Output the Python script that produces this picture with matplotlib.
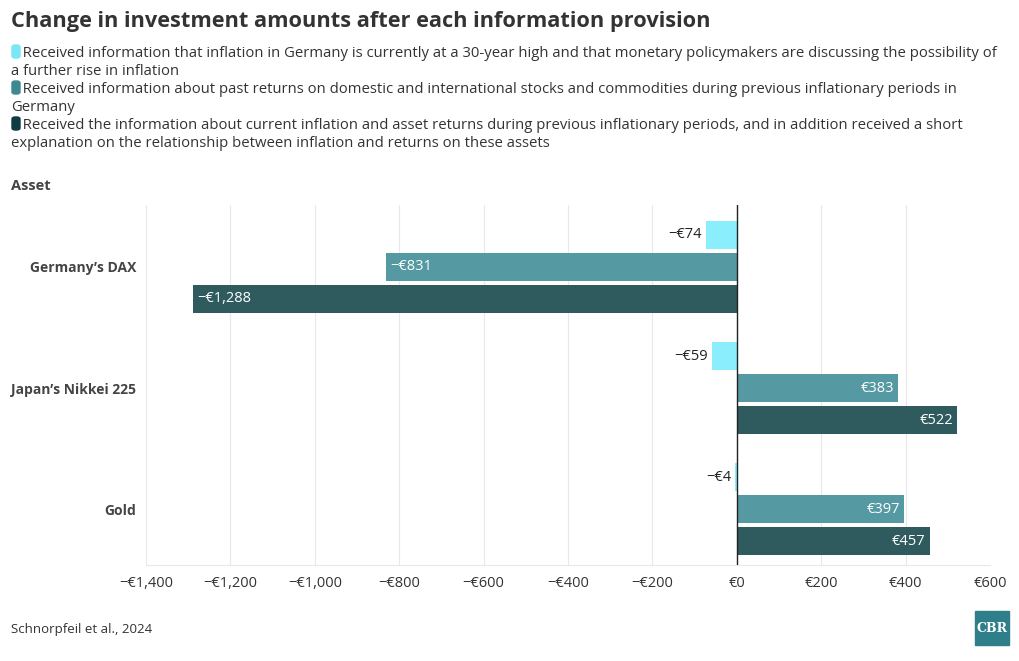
import matplotlib
matplotlib.use("Agg")
import matplotlib.pyplot as plt
from matplotlib.patches import FancyBboxPatch, Rectangle
import numpy as np

plt.rcParams["font.family"] = ["Open Sans", "DejaVu Sans"]

assets = ["Germany’s DAX", "Japan’s Nikkei 225", "Gold"]
info_current = [-74, -59, -4]
info_past = [-831, 383, 397]
info_both = [-1288, 522, 457]

series_names = [
    "Received information that inflation in Germany is currently at a 30-year high and that monetary policymakers are discussing the possibility of\na further rise in inflation",
    "Received information about past returns on domestic and international stocks and commodities during previous inflationary periods in\nGermany",
    "Received the information about current inflation and asset returns during previous inflationary periods, and in addition received a short\nexplanation on the relationship between inflation and returns on these assets",
]
bar_colors = ["#8beefc", "#5599a3", "#2f5b5f"]
swatch_colors = ["#7ae6f6", "#3f8893", "#0f3b43"]
label_colors = ["#222222", "white", "white"]
xticks = [-1400, -1200, -1000, -800, -600, -400, -200, 0, 200, 400, 600]

W, H = 1020, 661
fig = plt.figure(figsize=(W / 100, H / 100), dpi=100)
ax = fig.add_axes([146 / W, 96 / H, 844 / W, 360 / H])

txt = "#333333"
y = np.arange(len(assets))
offset = 0.264
height = 0.232
all_series = [info_current, info_past, info_both]
for i, vals in enumerate(all_series):
    pos = y + (i - 1) * offset
    ax.barh(pos, vals, height=height, color=bar_colors[i], zorder=2)
    for p, v in zip(pos, vals):
        s = ("−€" if v < 0 else "€") + f"{abs(v):,}"
        if i == 0:
            ax.annotate(s, (v, p), xytext=(-3, 0), textcoords="offset points",
                        ha="right", va="center", fontsize=10.5, color=label_colors[i])
        elif v < 0:
            ax.annotate(s, (v, p), xytext=(3, 0), textcoords="offset points",
                        ha="left", va="center", fontsize=10.5, color=label_colors[i])
        else:
            ax.annotate(s, (v, p), xytext=(-3, 0), textcoords="offset points",
                        ha="right", va="center", fontsize=10.5, color=label_colors[i])

ax.axvline(0, color="#222222", lw=1, zorder=3)
ax.set_xlim(-1400, 600)
ax.set_ylim(2.46, -0.51)
ax.set_xticks(xticks)
ax.set_xticklabels([("−€" if t < 0 else "€") + f"{abs(t):,}" for t in xticks],
                   fontsize=10.5, color=txt)
ax.set_yticks(y)
ax.set_yticklabels(assets, fontsize=10, fontweight="bold", color="#444444")
ax.tick_params(axis="both", length=0, pad=8)
ax.tick_params(axis="y", pad=7)
ax.grid(axis="x", color="#e8e8e8", lw=0.8, zorder=0)
for sp in ["top", "right", "left"]:
    ax.spines[sp].set_visible(False)
ax.spines["bottom"].set_color("#e8e8e8")

fig.text(11 / W, 1 - 22 / H, "Change in investment amounts after each information provision",
         fontsize=15.7, fontweight="bold", color=txt, va="center")

legend_y = [52, 88, 124]
for i, name in enumerate(series_names):
    yy = legend_y[i]
    fig.patches.append(FancyBboxPatch((12 / W, 1 - (yy + 6) / H), 8 / W, 13 / H,
                                      boxstyle="round,pad=0,rounding_size=0.003",
                                      transform=fig.transFigure, color=swatch_colors[i]))
    fig.text(11 / W, 1 - (yy - 6) / H, "   " + name, fontsize=10.7, color=txt,
             va="top", linespacing=1.28)

fig.text(11 / W, 1 - 186 / H, "Asset", fontsize=10.5, fontweight="bold", color="#444444",
         va="center")
fig.text(11 / W, 1 - 630 / H, "Schnorpfeil et al., 2024", fontsize=9.5, color=txt,
         va="center")

fig.patches.append(Rectangle((975 / W, 1 - 645 / H), 34 / W, 34 / H,
                             transform=fig.transFigure, color="#2e7f8a"))
fig.text(992 / W, 1 - 628 / H, "CBR", fontsize=9, fontweight="bold", color="white",
         family="DejaVu Serif", ha="center", va="center")

fig.savefig("out.png", dpi=100)
